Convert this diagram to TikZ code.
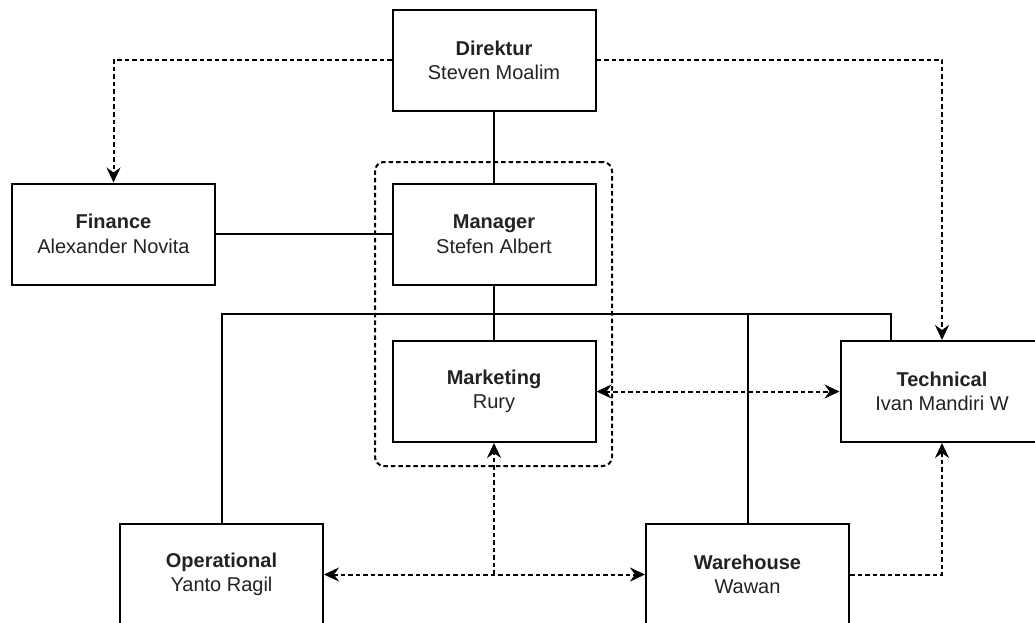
\documentclass[tikz,border=0pt]{standalone}
\usepackage{fontspec}
\setmainfont{Liberation Sans}
\usetikzlibrary{arrows.meta}
\definecolor{txt}{RGB}{34,34,34}
\begin{document}
\begin{tikzpicture}[x=1pt,y=-1pt,
  box/.style={draw, line width=2pt, minimum width=203pt, minimum height=101pt,
    align=center, inner sep=0pt, font=\fontsize{20}{24.5}\selectfont, text=txt},
  solidline/.style={line width=2pt},
  dashline/.style={line width=2pt, dash pattern=on 4.5pt off 3pt},
  tip/.style={-{Stealth[length=15pt,width=14pt,inset=5pt]}},
  tips/.style={{Stealth[length=15pt,width=14pt,inset=5pt]}-{Stealth[length=15pt,width=14pt,inset=5pt]}}]
\useasboundingbox (0,0) rectangle (1035,623);
% container
\node[dashline, draw, rounded corners=9pt, minimum width=237pt, minimum height=304pt, inner sep=0pt] (grp) at (493.5,314) {};
% boxes
\node[box] (dir) at (494,60.5) {\textbf{Direktur}\\Steven Moalim};
\node[box] (fin) at (113.5,234) {\textbf{Finance}\\Alexander Novita};
\node[box] (man) at (494,234) {\textbf{Manager}\\Stefen Albert};
\node[box] (mkt) at (494,391.5) {\textbf{Marketing}\\Rury};
\node[box] (tec) at (942,391.5) {\textbf{Technical}\\Ivan Mandiri W};
\node[box] (ops) at (221.5,574.5) {\textbf{Operational}\\Yanto Ragil};
\node[box] (wh) at (747.5,574.5) {\textbf{Warehouse}\\Wawan};
% coordinates
\coordinate (busL) at (221.5,314);
\coordinate (busR) at (891,314);
\coordinate (busW) at (747.5,314);
\coordinate (mid) at (494,574.5);
% solid lines
\draw[solidline] (dir.south) -- (man.north);
\draw[solidline] (fin.east) -- (man.west);
\draw[solidline] (man.south) -- (mkt.north);
\draw[solidline] (ops.north) -- (busL) -- (busR) -- (busR |- tec.north);
\draw[solidline] (wh.north) -- (busW);
% dashed arrows
\draw[dashline, tip] (dir.west |- 0,60) -| (fin.north);
\draw[dashline, tip] (dir.east |- 0,60) -| (tec.north);
\draw[dashline, tips] (mkt.east) -- (tec.west);
\draw[dashline, tips] (ops.east) -- (wh.west);
\draw[dashline, tip] (mid) -- (mkt.south);
\draw[dashline, tip] (wh.east) -| (tec.south);
\end{tikzpicture}
\end{document}
